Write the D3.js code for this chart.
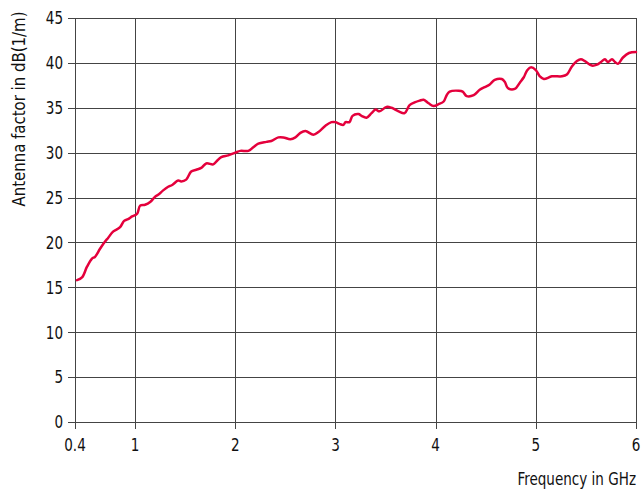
<!DOCTYPE html>
<html>
<head>
<meta charset="utf-8">
<script src="https://cdn.jsdelivr.net/npm/d3@7"></script>
<style>
  html, body { margin: 0; padding: 0; background: #fff; }
  svg text { font-family: "Liberation Sans Narrow", "DejaVu Sans Condensed", "Roboto Condensed", sans-serif; fill: #111; }
</style>
</head>
<body>
<svg id="chart" width="641" height="489"></svg>
<script>
const xTicks = [0.4, 1, 2, 3, 4, 5, 6];
const xTickLabels = ["0.4", "1", "2", "3", "4", "5", "6"];
const yTicks = [0, 5, 10, 15, 20, 25, 30, 35, 40, 45];

const freq = [0.42,0.47,0.52,0.57,0.60,0.65,0.70,0.73,0.78,0.85,0.89,0.93,0.97,1.02,1.05,1.10,1.15,1.20,1.23,1.28,
  1.33,1.37,1.43,1.46,1.51,1.56,1.61,1.66,1.71,1.78,1.81,1.86,1.93,2.00,2.05,2.13,2.18,2.23,2.31,2.36,
  2.43,2.48,2.55,2.60,2.65,2.70,2.78,2.83,2.90,2.96,3.00,3.04,3.08,3.10,3.14,3.17,3.23,3.26,3.31,3.36,
  3.40,3.44,3.51,3.56,3.63,3.69,3.74,3.79,3.84,3.88,3.93,3.98,4.03,4.08,4.11,4.14,4.23,4.27,4.31,4.38,
  4.44,4.49,4.54,4.59,4.66,4.69,4.72,4.79,4.84,4.88,4.91,4.95,5.00,5.04,5.08,5.16,5.26,5.31,5.36,5.41,
  5.45,5.49,5.56,5.61,5.65,5.69,5.72,5.76,5.79,5.82,5.87,5.93,6.00];
const antennaFactor = [15.8,16.1,17.3,18.2,18.4,19.3,20.1,20.5,21.2,21.7,22.4,22.6,22.9,23.2,24.1,24.2,24.5,25.1,25.3,25.8,
  26.2,26.4,26.9,26.8,27.0,27.9,28.1,28.3,28.8,28.7,29.0,29.5,29.7,30.0,30.2,30.2,30.6,31.0,31.2,31.3,
  31.7,31.7,31.5,31.7,32.2,32.4,32.0,32.3,33.0,33.4,33.4,33.2,33.1,33.4,33.4,34.1,34.3,34.1,33.9,34.4,
  34.8,34.6,35.1,35.0,34.6,34.4,35.3,35.6,35.8,35.9,35.5,35.2,35.4,35.7,36.4,36.8,36.9,36.8,36.3,36.4,
  37.0,37.3,37.6,38.1,38.2,37.9,37.2,37.1,37.8,38.4,39.1,39.5,39.2,38.5,38.2,38.5,38.5,38.7,39.6,40.2,
  40.4,40.2,39.7,39.8,40.1,40.4,40.1,40.4,40.1,39.9,40.6,41.1,41.2];

(function () {
const data = freq.map((f, i) => ({ f, v: antennaFactor[i] }));

const svg = d3.select("#chart");
const mLeft = 75, mRight = 636, mTop = 18, mBottom = 422;
const sx = 0.86;

const x = d3.scaleLinear().domain([0.4, 6]).range([mLeft, mRight]);
const y = d3.scaleLinear().domain([0, 45]).range([mBottom, mTop]);

const gridColor = "#444";

svg.append("g").selectAll("line").data(yTicks).join("line")
  .attr("x1", mLeft - 7).attr("x2", mRight)
  .attr("y1", d => Math.round(y(d)) + 0.5).attr("y2", d => Math.round(y(d)) + 0.5)
  .attr("stroke", gridColor).attr("stroke-width", 1);

svg.append("g").selectAll("line").data(xTicks).join("line")
  .attr("x1", d => Math.round(x(d)) + 0.5).attr("x2", d => Math.round(x(d)) + 0.5)
  .attr("y1", mTop).attr("y2", mBottom + 7)
  .attr("stroke", gridColor).attr("stroke-width", 1);

svg.append("g").selectAll("text").data(yTicks).join("text")
  .attr("transform", d => `translate(${mLeft - 12},${y(d)}) scale(${sx},1)`)
  .attr("dy", "0.36em")
  .attr("text-anchor", "end")
  .attr("font-size", 17.5)
  .text(d => d);

svg.append("g").selectAll("text").data(xTicks).join("text")
  .attr("transform", d => `translate(${x(d)},451) scale(${sx},1)`)
  .attr("text-anchor", "middle")
  .attr("font-size", 17.5)
  .text((d, i) => xTickLabels[i]);

svg.append("text")
  .attr("transform", `translate(${mRight},485) scale(${sx},1)`)
  .attr("text-anchor", "end")
  .attr("font-size", 17.5)
  .text("Frequency in GHz");

svg.append("text")
  .attr("transform", "translate(25, 109) rotate(-90) scale(0.95,1)")
  .attr("text-anchor", "middle")
  .attr("font-size", 17.5)
  .text("Antenna factor in dB(1/m)");

const line = d3.line().x(d => x(d.f)).y(d => y(d.v)).curve(d3.curveCatmullRom.alpha(0.5));
svg.append("path").datum(data)
  .attr("d", line)
  .attr("fill", "none")
  .attr("stroke", "#e4003c")
  .attr("stroke-width", 2.5)
  .attr("stroke-linejoin", "round")
  .attr("stroke-linecap", "round");
})();
</script>
</body>
</html>
